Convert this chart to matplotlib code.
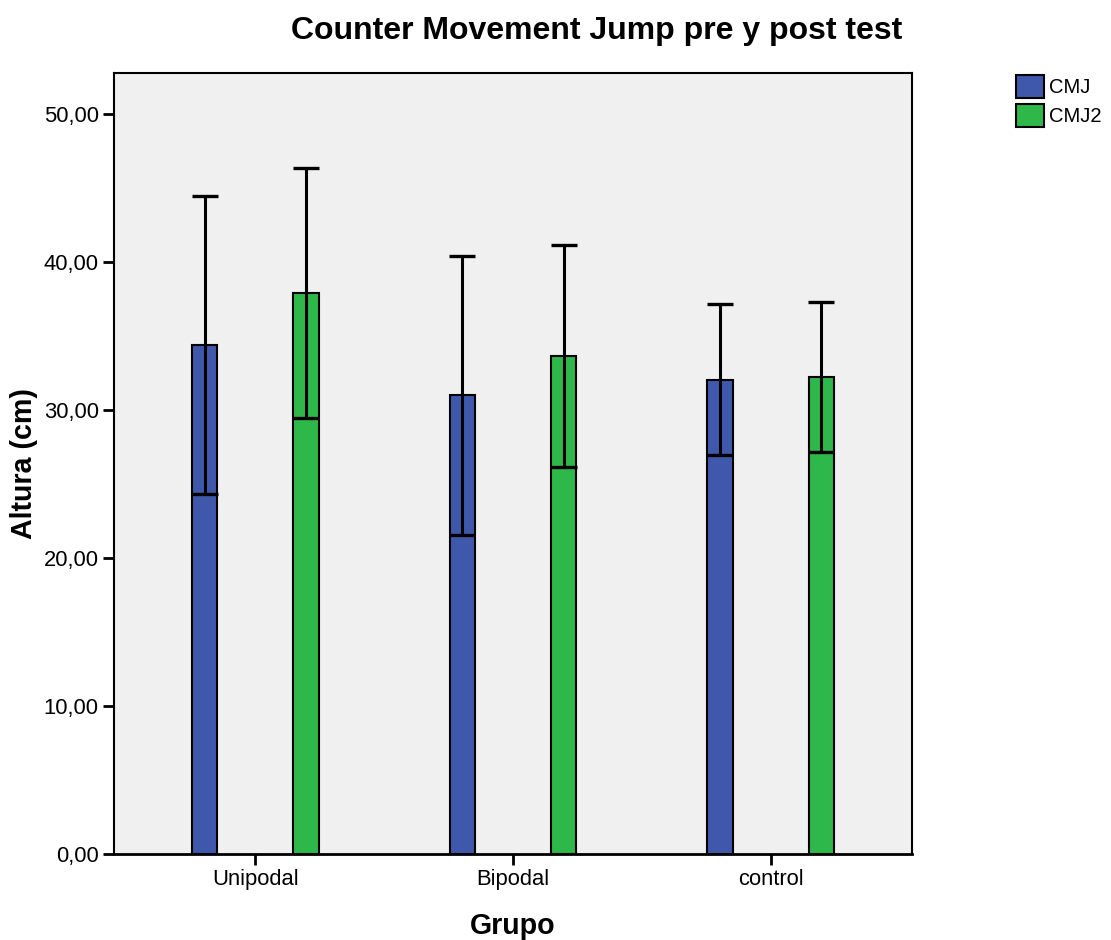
import matplotlib
matplotlib.use('Agg')
import matplotlib.pyplot as plt
import numpy as np

grupos = ['Unipodal', 'Bipodal', 'control']
cmj_media = [34.39, 31.01, 32.03]
cmj_sd = [10.07, 9.43, 5.10]
cmj2_media = [37.90, 33.65, 32.23]
cmj2_sd = [8.47, 7.50, 5.10]
yticks = [0, 10, 20, 30, 40, 50]

plt.rcParams['font.family'] = ['Liberation Sans', 'DejaVu Sans']

azul = '#3F58AB'
verde = '#2EB84A'

fig = plt.figure(figsize=(11.11, 9.4), dpi=100)
ax = fig.add_axes([0.1026, 0.0915, 0.7183, 0.8308])
ax.set_facecolor('#F0F0F0')

x = np.arange(len(grupos))
ancho = 0.1
desp = 0.196

ax.bar(x - desp, cmj_media, ancho, color=azul, edgecolor='black', linewidth=1.5, label='CMJ', zorder=2)
ax.bar(x + desp, cmj2_media, ancho, color=verde, edgecolor='black', linewidth=1.5, label='CMJ2', zorder=2)

# barras de error (+/- 1 DT)
for xs, m, s in [(x - desp, cmj_media, cmj_sd), (x + desp, cmj2_media, cmj2_sd)]:
    ax.errorbar(xs, m, yerr=s, fmt='none', ecolor='black', elinewidth=2.2,
                capsize=9.4, capthick=2.4, zorder=3)

ax.set_xlim(-0.547, 2.547)
ax.set_ylim(0, 52.77)
ax.set_xticks(x)
ax.set_xticklabels(grupos, fontsize=15.8)
ax.set_yticks(yticks)
ax.set_yticklabels([('%.2f' % v).replace('.', ',') for v in yticks], fontsize=15.8)
ax.tick_params(axis='both', direction='out', length=8, width=2, pad=3)
for sp in ax.spines.values():
    sp.set_linewidth(1.5)
ax.spines['bottom'].set_linewidth(2)

ax.set_ylabel('Altura (cm)', fontsize=20.6, fontweight='bold', labelpad=4)
ax.set_xlabel('Grupo', fontsize=20.6, fontweight='bold', labelpad=16)

fig.text(0.537, 0.967, 'Counter Movement Jump pre y post test', fontsize=23,
         fontweight='bold', ha='center', va='center')

ax.legend(loc='upper left', bbox_to_anchor=(1.12, 1.008), frameon=False, fontsize=14.5,
          handlelength=1.4, handleheight=1.4, handletextpad=0.25, labelspacing=0.3,
          borderaxespad=0)

fig.savefig('out.png', dpi=100)
